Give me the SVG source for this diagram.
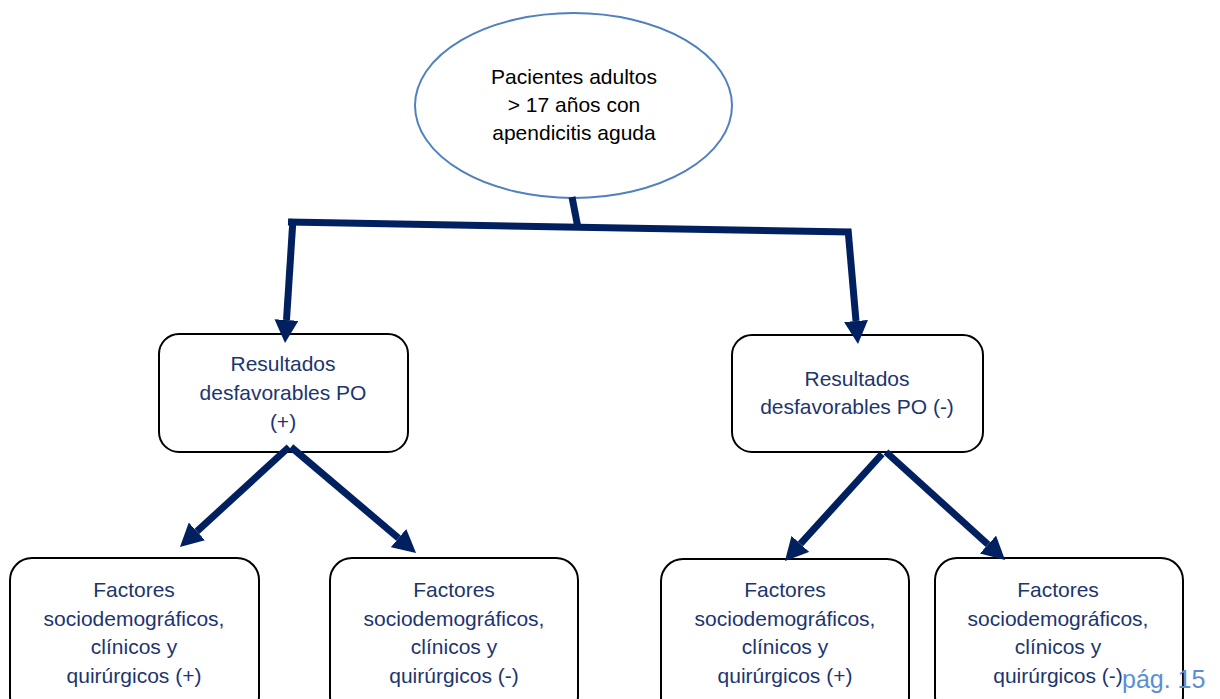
<svg xmlns="http://www.w3.org/2000/svg" width="1220" height="699" viewBox="0 0 1220 699">
<defs>
<style>
.box{fill:#fff;stroke:#000;stroke-width:2}
.ell{fill:#fff;stroke:#4f81bd;stroke-width:2}
.t{font-family:"Liberation Sans",Arial,sans-serif;font-size:21px;text-anchor:middle;fill:#1c3570}
.tb{font-family:"Liberation Sans",Arial,sans-serif;font-size:21px;text-anchor:middle;fill:#000}
.con{fill:none;stroke:#002060;stroke-width:7}
.arr{fill:none;stroke:#002060;stroke-width:7;marker-end:url(#ah)}
.pg{font-family:"Liberation Sans",Arial,sans-serif;font-size:25px;fill:#5b8fd4}
</style>
<marker id="ah" markerUnits="userSpaceOnUse" viewBox="0 0 23 24" markerWidth="23" markerHeight="24" refX="0" refY="12" orient="auto">
<path d="M0,0 L23,12 L0,24 z" fill="#002060"/>
</marker>
</defs>
<rect width="1220" height="699" fill="#fff"/>
<g id="n-root">
<ellipse class="ell" cx="573.5" cy="105.5" rx="158.5" ry="92.5"/>
<text class="tb" x="574" y="84">Pacientes adultos</text>
<text class="tb" x="574" y="112">&gt; 17 años con</text>
<text class="tb" x="574" y="140">apendicitis aguda</text>
</g>
<g id="n-pos">
<rect class="box" x="159" y="334" width="249" height="118" rx="20"/>
<text class="t" x="283" y="371">Resultados</text>
<text class="t" x="283" y="400">desfavorables PO</text>
<text class="t" x="283" y="429">(+)</text>
</g>
<g id="n-neg">
<rect class="box" x="732" y="335" width="251" height="117" rx="20"/>
<text class="t" x="857" y="386">Resultados</text>
<text class="t" x="857" y="414">desfavorables PO (-)</text>
</g>
<g id="n-a">
<rect class="box" x="10" y="558" width="249" height="160" rx="22"/>
<text class="t" x="134" y="597">Factores</text>
<text class="t" x="134" y="626">sociodemográficos,</text>
<text class="t" x="134" y="654">clínicos y</text>
<text class="t" x="134" y="683">quirúrgicos (+)</text>
</g>
<g id="n-b">
<rect class="box" x="330" y="558" width="248" height="160" rx="22"/>
<text class="t" x="454" y="597">Factores</text>
<text class="t" x="454" y="626">sociodemográficos,</text>
<text class="t" x="454" y="654">clínicos y</text>
<text class="t" x="454" y="683">quirúrgicos (-)</text>
</g>
<g id="n-c">
<rect class="box" x="661" y="559" width="248" height="160" rx="22"/>
<text class="t" x="785" y="597">Factores</text>
<text class="t" x="785" y="626">sociodemográficos,</text>
<text class="t" x="785" y="654">clínicos y</text>
<text class="t" x="785" y="683">quirúrgicos (+)</text>
</g>
<g id="n-d">
<rect class="box" x="935" y="558" width="248" height="160" rx="22"/>
<text class="t" x="1058" y="597">Factores</text>
<text class="t" x="1058" y="626">sociodemográficos,</text>
<text class="t" x="1058" y="654">clínicos y</text>
<text class="t" x="1058" y="683">quirúrgicos (-)</text>
</g>
<g id="connectors">
<line class="con" x1="572" y1="197" x2="578" y2="228"/>
<line class="con" x1="288" y1="222" x2="851" y2="232"/>
<line class="arr" x1="293" y1="219" x2="286.5" y2="320"/>
<line class="arr" x1="848" y1="229" x2="856" y2="321"/>
<line class="arr" x1="289" y1="447" x2="196.9" y2="531.4"/>
<line class="arr" x1="291" y1="447" x2="398.5" y2="538.1"/>
<line class="arr" x1="882" y1="454" x2="800.4" y2="543.9"/>
<line class="arr" x1="886" y1="452" x2="988" y2="544.5"/>
</g>
<text class="pg" x="1122" y="688">pág. 15</text>
</svg>
